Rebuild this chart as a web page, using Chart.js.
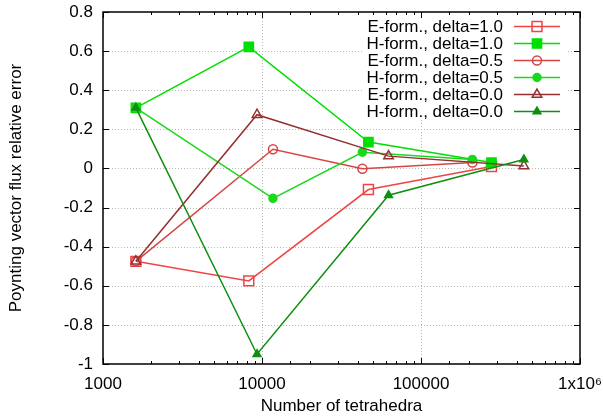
<!DOCTYPE html>
<html>
<head>
<meta charset="utf-8">
<script src="https://cdn.jsdelivr.net/npm/chart.js@4/dist/chart.umd.min.js"></script>
<style>
  html, body { margin: 0; padding: 0; background: #fff; }
  #wrap { width: 603px; height: 416px; }
</style>
</head>
<body>
<div id="wrap"><canvas id="c" width="603" height="416"></canvas></div>
<script>
// number of tetrahedra for each refinement family
const nDelta10 = [1610, 8260, 46700, 277500];
const nDelta05 = [1610, 11720, 42800, 210500];
const nDelta00 = [1610, 9300, 62500, 443600];

// relative error of the Poynting vector flux
const eDelta10 = [-0.475, -0.575, -0.108, 0.01];
const hDelta10 = [0.31, 0.622, 0.135, 0.03];
const eDelta05 = [-0.475, 0.098, -0.002, 0.03];
const hDelta05 = [0.31, -0.153, 0.083, 0.046];
const eDelta00 = [-0.475, 0.275, 0.063, 0.013];
const hDelta00 = [0.31, -0.95, -0.137, 0.046];

const seriesLabels = [
  "E-form., delta=1.0", "H-form., delta=1.0",
  "E-form., delta=0.5", "H-form., delta=0.5",
  "E-form., delta=0.0", "H-form., delta=0.0"
];
const xMajorTicks = [1000, 10000, 100000, 1000000];
const xTickLabels = ["1000", "10000", "100000", "1x10\u2076"];
const yTicks = [-1, -0.8, -0.6, -0.4, -0.2, 0, 0.2, 0.4, 0.6, 0.8];

const FONT = "'Liberation Sans', Arial, Helvetica, sans-serif";
const FSIZE = 17;

function pts(xs, ys) {
  return xs.map((x, i) => ({ x: x, y: ys[i] }));
}

function series(i, xs, ys, color, style, radius, filled) {
  return {
    label: seriesLabels[i],
    data: pts(xs, ys),
    borderColor: color,
    backgroundColor: filled ? color : "rgba(0,0,0,0)",
    pointBackgroundColor: filled ? color : "rgba(0,0,0,0)",
    pointBorderColor: color,
    pointStyle: style,
    pointRadius: radius,
    pointHoverRadius: radius,
    pointBorderWidth: 1.5,
    borderWidth: 1.5,
    tension: 0,
    fill: false,
    order: -i
  };
}

const datasets = [
  series(0, nDelta10, eDelta10, "#f04444", "rect", 7, false),
  series(1, nDelta10, hDelta10, "#00e000", "rect", 6.5, true),
  series(2, nDelta05, eDelta05, "#d84444", "circle", 4.5, false),
  series(3, nDelta05, hDelta05, "#1cd81c", "circle", 4, true),
  series(4, nDelta00, eDelta00, "#963030", "triangle", 5.5, false),
  series(5, nDelta00, hDelta00, "#0f8f0f", "triangle", 4.5, true)
];

// gnuplot-like frame: dotted grid, inward ticks on all sides, opaque key, axis titles
const framePlugin = {
  id: "frame",
  beforeDatasetsDraw(chart) {
    const { ctx, chartArea: a, scales } = chart;
    ctx.save();
    ctx.strokeStyle = "#b8b8b8";
    ctx.lineWidth = 1;
    ctx.setLineDash([1, 2]);
    yTicks.slice(1, -1).forEach(v => {
      const y = Math.round(scales.y.getPixelForValue(v)) + 0.5;
      ctx.beginPath(); ctx.moveTo(a.left, y); ctx.lineTo(a.right, y); ctx.stroke();
    });
    xMajorTicks.slice(1, -1).forEach(v => {
      const x = Math.round(scales.x.getPixelForValue(v)) + 0.5;
      ctx.beginPath(); ctx.moveTo(x, a.top); ctx.lineTo(x, a.bottom); ctx.stroke();
    });
    ctx.setLineDash([]);
    // opaque key background
    ctx.fillStyle = "#fff";
    ctx.fillRect(362, 16, 204, 103);
    ctx.restore();
  },
  afterDatasetsDraw(chart) {
    const { ctx, chartArea: a, scales } = chart;
    ctx.save();
    ctx.strokeStyle = "#000";
    ctx.lineWidth = 1;
    // y ticks left and right
    yTicks.forEach(v => {
      const y = Math.round(scales.y.getPixelForValue(v)) + 0.5;
      ctx.beginPath();
      ctx.moveTo(a.left, y); ctx.lineTo(a.left + 6, y);
      ctx.moveTo(a.right, y); ctx.lineTo(a.right - 6, y);
      ctx.stroke();
    });
    // x ticks bottom and top, major and minor
    scales.x.ticks.forEach(t => {
      const v = t.value;
      const major = xMajorTicks.includes(v);
      const len = major ? 6 : 3;
      const x = Math.round(scales.x.getPixelForValue(v)) + 0.5;
      ctx.beginPath();
      ctx.moveTo(x, a.bottom); ctx.lineTo(x, a.bottom - len);
      ctx.moveTo(x, a.top); ctx.lineTo(x, a.top + len);
      ctx.stroke();
    });
    ctx.lineWidth = 1.5;
    ctx.strokeRect(a.left, a.top, a.right - a.left, a.bottom - a.top);

    // key
    ctx.font = FSIZE + "px " + FONT;
    ctx.textAlign = "right";
    ctx.textBaseline = "middle";
    chart.data.datasets.forEach((ds, i) => {
      const y = 26 + i * 17;
      ctx.fillStyle = "#000";
      ctx.fillText(ds.label, 503, y + 1);
      ctx.strokeStyle = ds.borderColor;
      ctx.lineWidth = 1.5;
      ctx.beginPath(); ctx.moveTo(514, y + 0.5); ctx.lineTo(560, y + 0.5); ctx.stroke();
      ctx.fillStyle = ds.pointBackgroundColor;
      Chart.helpers.drawPoint(ctx, {
        pointStyle: ds.pointStyle, radius: ds.pointRadius, rotation: 0, borderWidth: 1.5
      }, 537, y + 0.5);
    });

    // axis titles
    ctx.fillStyle = "#000";
    ctx.textAlign = "center";
    ctx.textBaseline = "middle";
    ctx.fillText("Number of tetrahedra", (a.left + a.right) / 2, 406);
    ctx.translate(16, (a.top + a.bottom) / 2);
    ctx.rotate(-Math.PI / 2);
    ctx.fillText("Poynting vector flux relative error", 0, 0);
    ctx.restore();
  }
};

new Chart(document.getElementById("c"), {
  type: "line",
  data: { datasets: datasets },
  options: {
    responsive: false,
    animation: false,
    events: [],
    layout: { padding: { top: 12, right: 23, left: 0, bottom: 0 } },
    plugins: { legend: { display: false }, tooltip: { enabled: false } },
    scales: {
      x: {
        type: "logarithmic",
        min: 1000,
        max: 1000000,
        grid: { display: false, drawTicks: false },
        border: { display: false },
        afterFit(s) { s.height = 52; s.paddingLeft = 0; s.paddingRight = 0; },
        ticks: {
          autoSkip: false,
          maxRotation: 0,
          padding: 10,
          color: "#000",
          font: { family: FONT, size: FSIZE },
          callback(v) {
            const k = xMajorTicks.indexOf(v);
            return k >= 0 ? xTickLabels[k] : "";
          }
        }
      },
      y: {
        min: -1,
        max: 0.8,
        grid: { display: false, drawTicks: false },
        border: { display: false },
        afterFit(s) { s.width = 103; s.paddingTop = 0; s.paddingBottom = 0; },
        ticks: {
          stepSize: 0.2,
          padding: 10,
          color: "#000",
          font: { family: FONT, size: FSIZE },
          callback(v) { return String(parseFloat(Number(v).toFixed(1))); }
        }
      }
    }
  },
  plugins: [framePlugin]
});
</script>
</body>
</html>
